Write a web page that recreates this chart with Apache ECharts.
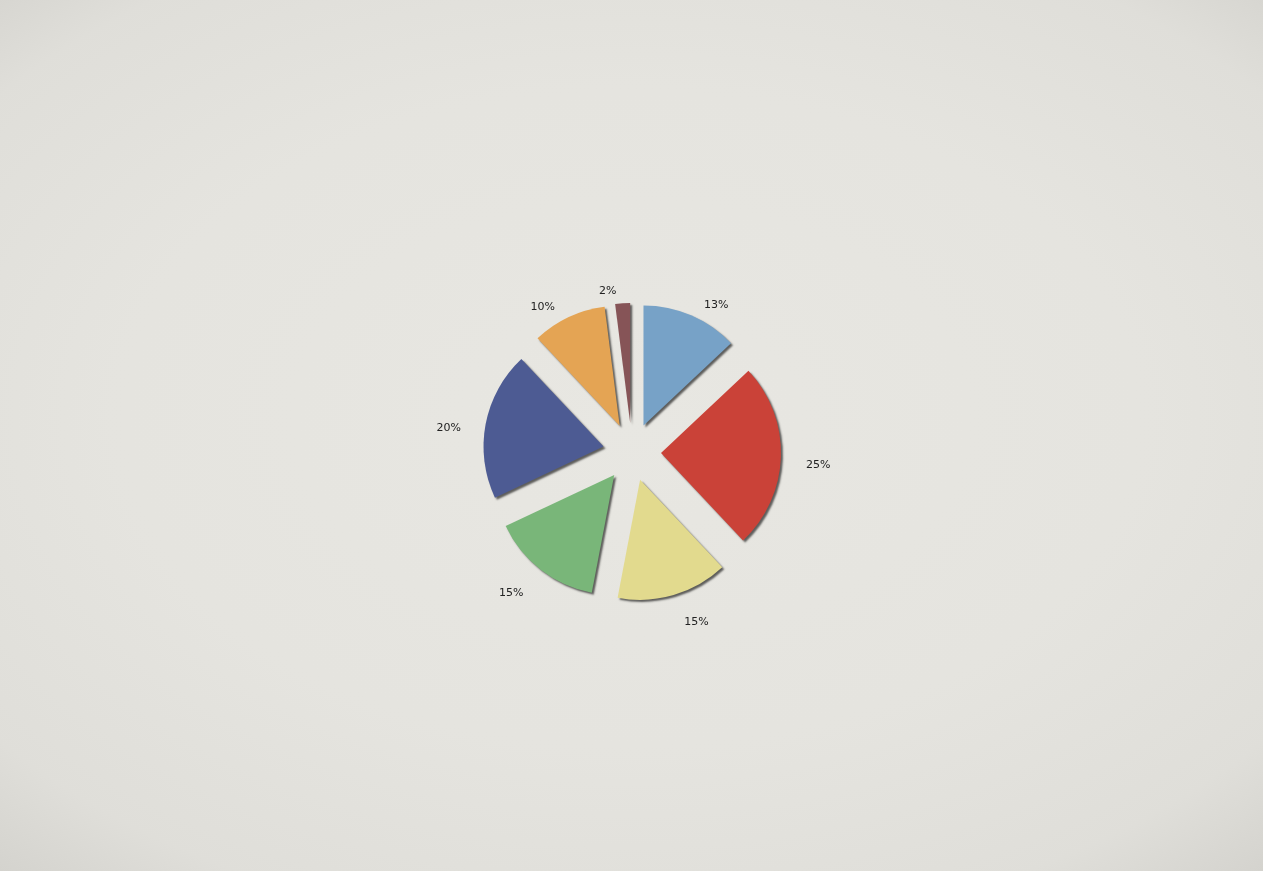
<!DOCTYPE html>
<html>
<head>
<meta charset="utf-8">
<script src="https://cdn.jsdelivr.net/npm/echarts@6/dist/echarts.min.js"></script>
<style>
html,body{margin:0;padding:0;width:1263px;height:871px;overflow:hidden;}
body{background:#e4e3de;background-image:
 radial-gradient(ellipse 75% 70% at 50% 48%, rgba(232,231,226,1) 0%, rgba(229,228,223,0.9) 55%, rgba(220,219,214,0.6) 85%, rgba(205,204,199,0.7) 100%);}
#chart{width:1263px;height:871px;}
</style>
</head>
<body>
<div id="chart"></div>
<script>
const categories = ['Blue', 'Red', 'Yellow', 'Green', 'Navy', 'Orange', 'Brown'];
const values = [13, 25, 15, 15, 20, 10, 2];
const sliceColors = ['#77a2c7', '#ca4238', '#e2da8e', '#79b679', '#4d5b93', '#e4a454', '#865457'];

const data = categories.map((name, i) => ({
  name: name,
  value: values[i],
  selected: true,
  itemStyle: { color: sliceColors[i] }
}));

const chart = echarts.init(document.getElementById('chart'), null, { renderer: 'canvas' });
chart.setOption({
  backgroundColor: 'transparent',
  animation: false,
  series: [{
    type: 'pie',
    center: [632, 452],
    radius: 120,
    startAngle: 90,
    clockwise: true,
    selectedMode: 'multiple',
    selectedOffset: 29,
    avoidLabelOverlap: false,
    itemStyle: {
      shadowBlur: 2,
      shadowColor: 'rgba(0,0,0,0.6)',
      shadowOffsetX: 2,
      shadowOffsetY: 2
    },
    label: {
      show: true,
      position: 'outside',
      formatter: p => Math.round(p.percent) + '%',
      fontFamily: 'DejaVu Sans',
      fontSize: 11,
      color: '#222'
    },
    labelLine: { show: false, length: 20, length2: 0 },
    labelLayout: { dy: 8 },
    emphasis: { disabled: true },
    data: data
  }]
});
</script>
</body>
</html>
